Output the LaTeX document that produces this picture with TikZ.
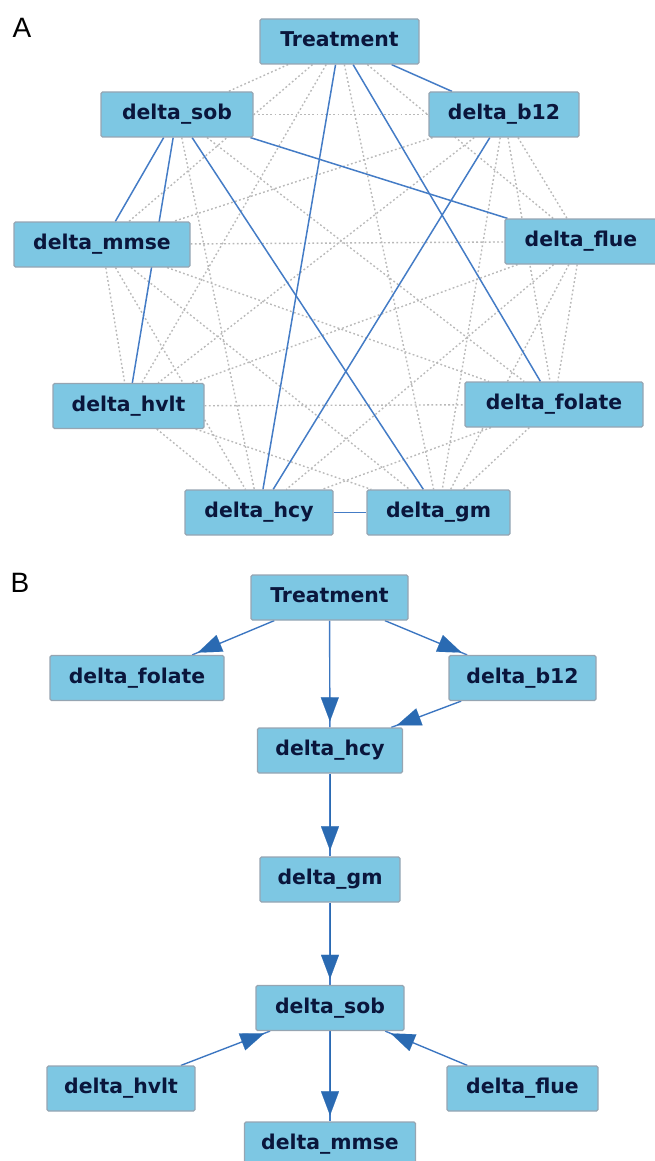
\documentclass[tikz,border=0pt]{standalone}
\usepackage{fontspec}
\setmainfont{DejaVu Sans}
\newfontfamily\nodefont{DejaVu Sans}
\newfontfamily\labfont{Liberation Sans}
\usetikzlibrary{arrows.meta,backgrounds}
\definecolor{boxfill}{RGB}{125,199,227}
\definecolor{boxline}{RGB}{150,165,178}
\definecolor{boxtext}{RGB}{10,22,60}
\definecolor{edgeblue}{RGB}{68,124,198}
\definecolor{headblue}{RGB}{42,106,178}
\definecolor{dotgray}{RGB}{185,185,185}
\begin{document}
\begin{tikzpicture}[x=1pt,y=-1pt,
 box/.style={draw=boxline, line width=1.2pt, fill=boxfill, rounded corners=1.5pt,
   minimum height=45pt, inner sep=0pt, text height=15pt, text depth=4.5pt,
   text=boxtext, font=\nodefont\bfseries\fontsize{20.4}{21}\selectfont},
 panel/.style={font=\labfont\fontsize{28}{30}\selectfont, inner sep=0pt, text=black},
 solidedge/.style={draw=edgeblue, line width=1.5pt},
 dotedge/.style={draw=dotgray, line width=1.4pt, dash pattern=on 1.8pt off 2.4pt},
 arrowedge/.style={draw=edgeblue, line width=1.4pt,
   postaction={draw=headblue, line width=0.1pt, -{Triangle[length=24pt,width=18pt]}, shorten >=6pt}}
]
\useasboundingbox (0,0) rectangle (655,1161);
\clip (0,0) rectangle (655,1161);

% ---------- Panel A ----------
\node[panel] (labA) at (22,28) {A};
\node[box, minimum width=159pt] (aT)    at (339.5,41.5) {Treatment};
\node[box, minimum width=152pt] (aSob)  at (177,114.5)  {delta\_sob};
\node[box, minimum width=150pt] (aB12)  at (504,114.5)  {delta\_b12};
\node[box, minimum width=176pt] (aMmse) at (102,244.5)  {delta\_mmse};
\node[box, minimum width=152pt] (aFlue) at (581,241.5)  {delta\_flue};
\node[box, minimum width=151pt] (aHvlt) at (128.5,406)  {delta\_hvlt};
\node[box, minimum width=178pt] (aFol)  at (554,404.5)  {delta\_folate};
\node[box, minimum width=148pt] (aHcy)  at (259,512.5)  {delta\_hcy};
\node[box, minimum width=143pt] (aGm)   at (438.5,512.5){delta\_gm};

\begin{scope}[on background layer]
\foreach \a/\b in {aT/aSob,aT/aMmse,aT/aFlue,aT/aHvlt,aT/aGm,
  aSob/aB12,aSob/aFol,aSob/aHcy,
  aB12/aMmse,aB12/aFlue,aB12/aHvlt,aB12/aFol,aB12/aGm,
  aMmse/aFlue,aMmse/aHvlt,aMmse/aFol,aMmse/aHcy,aMmse/aGm,
  aFlue/aHvlt,aFlue/aFol,aFlue/aHcy,aFlue/aGm,
  aHvlt/aFol,aHvlt/aHcy,aHvlt/aGm,
  aFol/aHcy,aFol/aGm}
  \draw[dotedge] (\a) -- (\b);
\foreach \a/\b in {aT/aB12,aT/aHcy,aT/aFol,aSob/aMmse,aSob/aHvlt,aSob/aGm,aSob/aFlue,aB12/aHcy,aHcy/aGm}
  \draw[solidedge] (\a) -- (\b);
\end{scope}

% ---------- Panel B ----------
\node[panel] (labB) at (20,583) {B};
\node[box, minimum width=157pt] (bT)    at (329.5,597.5) {Treatment};
\node[box, minimum width=174pt] (bFol)  at (137,678)     {delta\_folate};
\node[box, minimum width=147pt] (bB12)  at (522.5,678)   {delta\_b12};
\node[box, minimum width=145pt] (bHcy)  at (330,750.5)   {delta\_hcy};
\node[box, minimum width=140pt] (bGm)   at (330,879.5)   {delta\_gm};
\node[box, minimum width=148pt] (bSob)  at (330,1008)    {delta\_sob};
\node[box, minimum width=148pt] (bHvlt) at (121,1088.5)  {delta\_hvlt};
\node[box, minimum width=151pt] (bFlue) at (522.5,1088.5){delta\_flue};
\node[box, minimum width=171pt] (bMmse) at (330,1144.5)  {delta\_mmse};

\begin{scope}[on background layer]
\foreach \a/\b in {bT/bFol,bT/bHcy,bT/bB12,bB12/bHcy,bHcy/bGm,bGm/bSob,bHvlt/bSob,bFlue/bSob,bSob/bMmse}
  \draw[arrowedge] (\a) -- (\b);
\end{scope}
\end{tikzpicture}
\end{document}
